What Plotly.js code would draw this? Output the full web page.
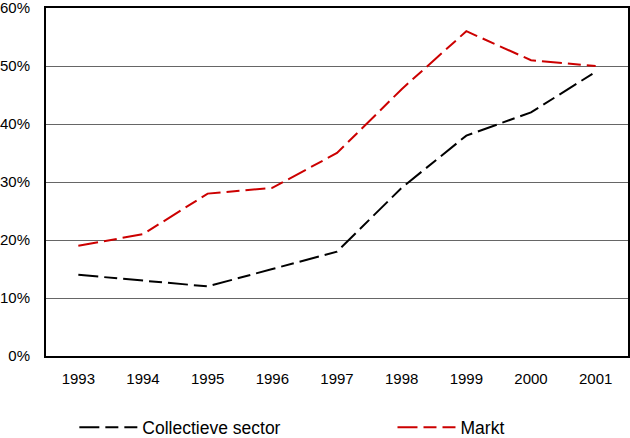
<!DOCTYPE html>
<html>
<head>
<meta charset="utf-8">
<script src="https://cdn.plot.ly/plotly-3.0.1.min.js"></script>
<style>html,body{margin:0;padding:0;background:#fff;}#chart{width:630px;height:438px;}</style>
</head>
<body>
<div id="chart"></div>
<script>
var years = ['1993','1994','1995','1996','1997','1998','1999','2000','2001'];
var collectieve = [14, 13, 12, 15, 18, 29, 38, 42, 49];
var markt = [19, 21, 28, 29, 35, 46, 56, 51, 50];
var tickVals = [0, 10, 20, 30, 40, 50, 60];
var tickText = ['0%', '10%', '20%', '30%', '40%', '50%', '60%'];

var traces = [
  {x: years, y: collectieve, name: 'Collectieve sector', type: 'scatter', mode: 'lines',
   legend: 'legend', line: {color: '#000000', width: 2, dash: '20px,6px,13px,6px'}},
  {x: years, y: markt, name: 'Markt', type: 'scatter', mode: 'lines',
   legend: 'legend2', line: {color: '#cc0000', width: 2, dash: '20px,6px,13px,6px'}}
];

var legendBase = {orientation: 'h', xref: 'container', yref: 'container',
                  xanchor: 'left', yanchor: 'middle', y: 0.024, itemwidth: 58,
                  bgcolor: 'rgba(0,0,0,0)', font: {size: 17.5}};

var layout = {
  width: 630, height: 438,
  margin: {l: 46, r: 2, t: 8, b: 82},
  paper_bgcolor: '#fff', plot_bgcolor: '#fff',
  font: {family: 'Liberation Sans, Arial, sans-serif', size: 15, color: '#000'},
  showlegend: true,
  legend: Object.assign({}, legendBase, {x: 0.118}),
  legend2: Object.assign({}, legendBase, {x: 0.623}),
  xaxis: {type: 'category', range: [-0.5, 8.5], showgrid: false, showline: true,
          linecolor: '#000', linewidth: 2, mirror: true, ticks: '', ticklabelstandoff: 8,
          zeroline: false, fixedrange: true},
  yaxis: {range: [0, 60], tickvals: tickVals, ticktext: tickText, showgrid: true,
          gridcolor: '#666', gridwidth: 1, showline: true, linecolor: '#000', linewidth: 2,
          mirror: true, ticks: '', ticklabelstandoff: 11, ticklabeloverflow: 'allow',
          zeroline: false, fixedrange: true}
};

Plotly.newPlot('chart', traces, layout, {displayModeBar: false, staticPlot: true});
</script>
</body>
</html>
